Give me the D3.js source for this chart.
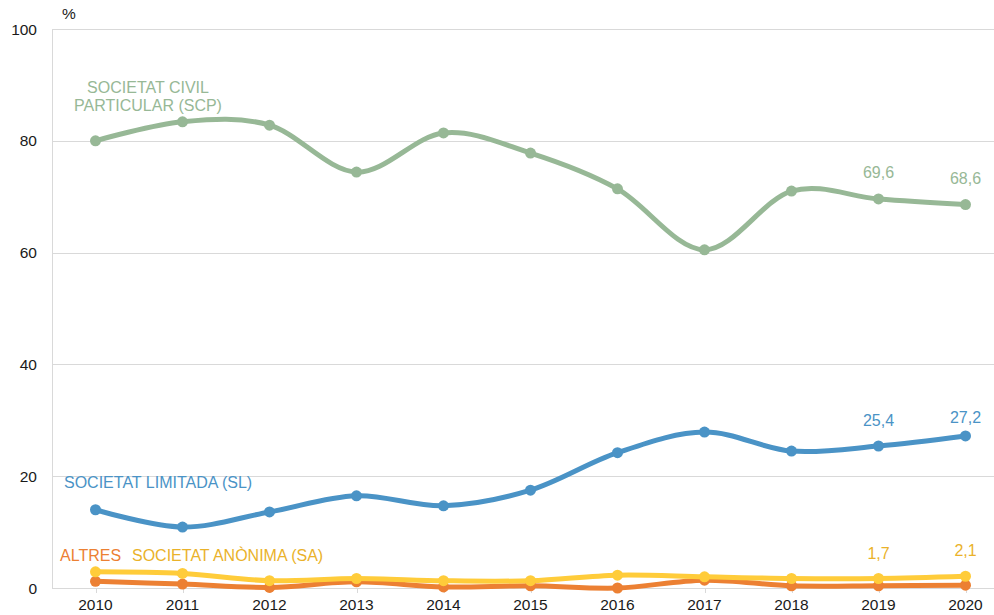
<!DOCTYPE html>
<html>
<head>
<meta charset="utf-8">
<script src="https://cdn.jsdelivr.net/npm/d3@7"></script>
<style>
  body { margin: 0; background: #fff; }
  text { font-family: "Liberation Sans", Arial, sans-serif; }
</style>
</head>
<body>
<svg id="chart" width="994" height="615"></svg>
<script>
// data
var years = [2010, 2011, 2012, 2013, 2014, 2015, 2016, 2017, 2018, 2019, 2020];
var scp = [80.0, 83.4, 82.8, 74.4, 81.4, 77.8, 71.4, 60.5, 71.0, 69.6, 68.6];
var sl = [14.0, 10.9, 13.6, 16.5, 14.7, 17.5, 24.2, 27.9, 24.5, 25.4, 27.2];
var sa = [2.9, 2.6, 1.3, 1.7, 1.3, 1.3, 2.3, 2.0, 1.7, 1.7, 2.1];
var altres = [1.2, 0.7, 0.1, 1.1, 0.2, 0.4, 0.0, 1.4, 0.4, 0.4, 0.5];
var yTicks = [0, 20, 40, 60, 80, 100];

var series = [
    {key: 'altres', values: altres, line: '#ec8033', text: '#ec8033'},
    {key: 'sa', values: sa, line: '#ffcc3a', text: '#eab22a'},
    {key: 'sl', values: sl, line: '#4a93c6', text: '#4a93c6'},
    {key: 'scp', values: scp, line: '#97b896', text: '#97b896'}
];

var svg = d3.select('#chart');
// careful: "top" is window.top, so use other names
var plotLeft = 52, plotRight = 1009, plotTop = 29, plotBottom = 588;

var x = d3.scalePoint().domain(years).range([plotLeft, plotRight]).padding(0.5);
var y = d3.scaleLinear().domain([0, 100]).range([plotBottom, plotTop]);

// gridlines
svg.append('g').selectAll('line').data(yTicks.filter(function (d) { return d > 0; }))
    .enter().append('line')
    .attr('x1', plotLeft).attr('x2', 994)
    .attr('y1', function (d) { return Math.round(y(d)) + 0.5; })
    .attr('y2', function (d) { return Math.round(y(d)) + 0.5; })
    .attr('stroke', '#d9d9d9').attr('stroke-width', 1);

// axes lines
svg.append('line').attr('x1', plotLeft + 0.5).attr('x2', plotLeft + 0.5).attr('y1', plotTop).attr('y2', plotBottom)
    .attr('stroke', '#d9d9d9');
svg.append('line').attr('x1', plotLeft).attr('x2', 994).attr('y1', plotBottom + 0.5).attr('y2', plotBottom + 0.5)
    .attr('stroke', '#d9d9d9');

// y tick labels
svg.append('g').selectAll('text').data(yTicks).enter().append('text')
    .attr('x', 37).attr('y', function (d) { return y(d) + 5.5; })
    .attr('text-anchor', 'end').attr('font-size', 15.5).attr('fill', '#1a1a1a')
    .text(function (d) { return d; });

svg.append('text').attr('x', 62).attr('y', 19).attr('font-size', 15.5).attr('fill', '#1a1a1a').text('%');

// x tick marks and labels
svg.append('g').selectAll('line').data(years).enter().append('line')
    .attr('x1', function (d) { return Math.round(x(d)) + 0.5; })
    .attr('x2', function (d) { return Math.round(x(d)) + 0.5; })
    .attr('y1', plotBottom).attr('y2', plotBottom + 5).attr('stroke', '#d9d9d9');
svg.append('g').selectAll('text').data(years).enter().append('text')
    .attr('x', function (d) { return x(d); }).attr('y', 610)
    .attr('text-anchor', 'middle').attr('font-size', 15.5).attr('fill', '#1a1a1a')
    .text(function (d) { return d; });

var line = d3.line()
    .x(function (d, i) { return x(years[i]); })
    .y(function (d) { return y(d); })
    .curve(d3.curveCardinal.tension(0));

series.forEach(function (s) {
    var g = svg.append('g');
    g.append('path').attr('d', line(s.values))
        .attr('fill', 'none').attr('stroke', s.line).attr('stroke-width', 5)
        .attr('stroke-linecap', 'round');
    g.selectAll('circle').data(s.values).enter().append('circle')
        .attr('cx', function (d, i) { return x(years[i]); })
        .attr('cy', function (d) { return y(d); })
        .attr('r', 5.5).attr('fill', s.line);
});

// value labels on the last two years
var valueLabels = [
    {s: 'scp', i: 9, dy: -21}, {s: 'scp', i: 10, dy: -21},
    {s: 'sl', i: 9, dy: -20}, {s: 'sl', i: 10, dy: -13},
    {s: 'sa', i: 9, dy: -19}, {s: 'sa', i: 10, dy: -20}
];
var byKey = {};
series.forEach(function (s) { byKey[s.key] = s; });
var fmt = function (v) { return d3.format('.1f')(v).replace('.', ','); };

svg.append('g').selectAll('text').data(valueLabels).enter().append('text')
    .attr('x', function (d) { return x(years[d.i]); })
    .attr('y', function (d) { return y(byKey[d.s].values[d.i]) + d.dy; })
    .attr('text-anchor', 'middle').attr('font-size', 16)
    .attr('fill', function (d) { return byKey[d.s].text; })
    .text(function (d) { return fmt(byKey[d.s].values[d.i]); });

// series names
var names = [
    {s: 'scp', lines: ['SOCIETAT CIVIL', 'PARTICULAR (SCP)'], x: 148, y: 93, anchor: 'middle'},
    {s: 'sl', lines: ['SOCIETAT LIMITADA (SL)'], x: 64, y: 488, anchor: 'start'},
    {s: 'altres', lines: ['ALTRES'], x: 60, y: 561, anchor: 'start'},
    {s: 'sa', lines: ['SOCIETAT ANÒNIMA (SA)'], x: 132, y: 561, anchor: 'start'}
];
names.forEach(function (n) {
    var t = svg.append('text').attr('x', n.x).attr('y', n.y)
        .attr('text-anchor', n.anchor).attr('font-size', 16)
        .attr('fill', byKey[n.s].text);
    n.lines.forEach(function (l, k) {
        t.append('tspan').attr('x', n.x).attr('dy', k ? 18 : 0).text(l);
    });
});
</script>
</body>
</html>
